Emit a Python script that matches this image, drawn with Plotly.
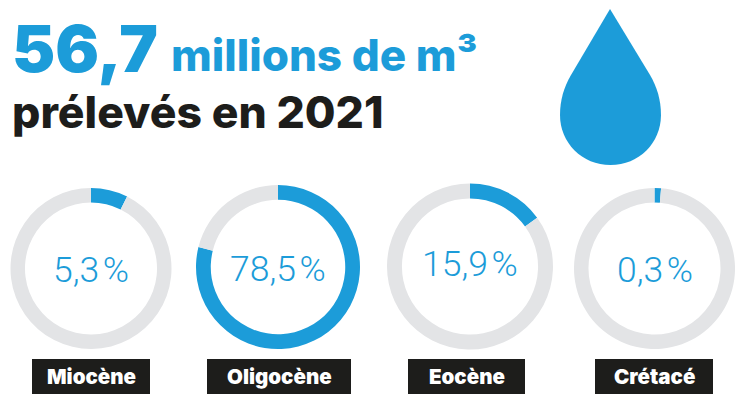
import plotly.graph_objs as go

W = 744
H = 414

# donnees
nappes = ['Miocène', 'Oligocène', 'Eocène', 'Crétacé']
parts_txt = ['5,3\u200a%', '78,5\u200a%', '15,9\u200a%', '0,3\u200a%']
# longueur des arcs telle que dessinee sur l'image (pas toujours egale au texte)
arcs = [7.4, 78.9, 15.0, 1.3]

BLEU = '#1C9CD9'
GRIS = '#E3E4E6'
NOIR = '#1D1D1B'
FONT = 'Inter'


def px(x):
    return x / W


def py(y):
    return 1 - y / H


# cercles : centre x, centre y, rayon en pixels
cx = [91, 278, 470, 654.5]
cy = [268.5, 267, 266.5, 268.5]
rayon = [80.5, 82, 83, 80.5]
# etiquettes noires : gauche, droite
et_g = [32, 207, 408, 595]
et_d = [150, 351, 525, 713]
txt_y = [270, 269, 264, 270]

fig = go.Figure()

for i in range(4):
    fig.add_trace(go.Pie(
        values=[arcs[i], 100 - arcs[i]],
        labels=['prélevé', 'reste'],
        sort=False,
        direction='clockwise',
        rotation=0,
        hole=0.82,
        textinfo='none',
        hoverinfo='skip',
        showlegend=False,
        marker=dict(colors=[BLEU, GRIS], line=dict(width=0)),
        domain=dict(x=[px(cx[i] - rayon[i]), px(cx[i] + rayon[i])],
                    y=[py(cy[i] + rayon[i]), py(cy[i] - rayon[i])]),
    ))


def texte(x, y, t, size, color, weight, anchor='left', family=FONT):
    fig.add_annotation(x=px(x), y=py(y), xref='paper', yref='paper', text=t,
                       showarrow=False, xanchor=anchor, yanchor='middle',
                       borderpad=0,
                       font=dict(family=family, size=size, color=color, weight=weight))


for i in range(4):
    fig.add_shape(type='rect', xref='paper', yref='paper',
                  x0=px(et_g[i]), x1=px(et_d[i]), y0=py(394), y1=py(359),
                  fillcolor=NOIR, line=dict(width=0))
    texte((et_g[i] + et_d[i]) / 2, 376.5, nappes[i], 20.5, 'white', 900, 'center')
    texte(cx[i], txt_y[i], parts_txt[i], 35.5, BLEU, 300, 'center', 'Roboto')

# titres
texte(11, 49, '56,7', 65, BLEU, 900)
texte(170, 55, 'millions de m³', 44, BLEU, 800)
texte(11, 112, 'prélevés en 2021', 44.5, NOIR, 800)

# goutte d'eau
pts = [(610, 9), (571, 75), (564, 87), (560, 100), (560, 115), (560, 143), (582, 165),
       (610.5, 165), (639, 165), (661, 143), (661, 115), (661, 100), (657, 87), (650, 75)]
p = ['%.4f %.4f' % (px(a), py(b)) for a, b in pts]
chemin = 'M %s L %s C %s, %s, %s C %s, %s, %s C %s, %s, %s C %s, %s, %s Z' % tuple(p)
fig.add_shape(type='path', xref='paper', yref='paper', path=chemin,
              fillcolor=BLEU, line=dict(width=0))

fig.update_layout(
    width=W,
    height=H,
    margin=dict(l=0, r=0, t=0, b=0),
    paper_bgcolor='white',
    plot_bgcolor='white',
)

# la page ajoute 8 px de marge par defaut
fig.write_html("out.html", config=dict(displayModeBar=False),
               post_script="document.body.style.margin='0';")
